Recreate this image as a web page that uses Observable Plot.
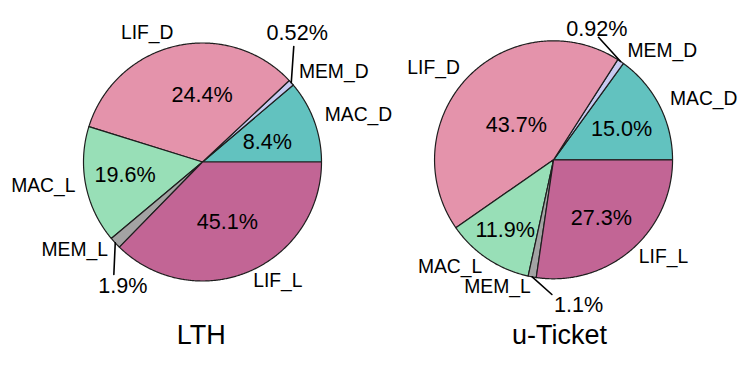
<!DOCTYPE html>
<html>
<head>
<meta charset="utf-8">
<script src="https://cdn.jsdelivr.net/npm/d3@7"></script>
<script src="https://cdn.jsdelivr.net/npm/@observablehq/plot@0.6"></script>
<style>
  html, body { margin: 0; padding: 0; background: #ffffff; }
  #chart svg { display: block; }
</style>
</head>
<body>
<div id="chart"></div>
<script>
// ---------------- DATA ----------------
const categories = ["MAC_D", "MEM_D", "LIF_D", "MAC_L", "MEM_L", "LIF_L"];
const panels = ["LTH", "u-Ticket"];
// slice sizes as drawn in the picture (percent of the circle)
const lthShares = [11.2, 0.8, 33.2, 15.9, 1.6, 37.3];
const uticketShares = [15.0, 0.92, 43.7, 11.9, 1.1, 27.3];
// percentage labels as printed on the picture
const lthPctLabels = ["8.4%", "0.52%", "24.4%", "19.6%", "1.9%", "45.1%"];
const uticketPctLabels = ["15.0%", "0.92%", "43.7%", "11.9%", "1.1%", "27.3%"];
const sliceColors = ["#62c2bf", "#c7caf1", "#e493ab", "#98dfb7", "#a3a3a3", "#c26595"];

// ---------------- LAYOUT (pie-radius units, relative to each pie centre) ----------------
const layout = [
  {
    panel: "LTH", cx: 0, cy: 0, title: [-0.011, -1.458],
    name: {MAC_D: [1.311, 0.397], MEM_D: [1.103, 0.755], LIF_D: [-0.465, 1.088],
           MAC_L: [-1.338, -0.203], MEM_L: [-1.074, -0.738], LIF_L: [0.633, -0.996]},
    pct: {MAC_D: [0.544, 0.166], MEM_D: [0.796, 1.086], LIF_D: [-0.003, 0.559],
          MAC_L: [-0.651, -0.108], MEM_L: [-0.670, -1.046], LIF_L: [0.208, -0.506]},
    leader: {MEM_D: [0.767, 0.971], MEM_L: [-0.745, -0.945]}
  },
  {
    panel: "u-Ticket", cx: 2.95, cy: 0.0185, title: [0.049, -1.478],
    name: {MAC_D: [1.262, 0.513], MEM_D: [0.914, 0.918], LIF_D: [-1.008, 0.770],
           MAC_L: [-0.870, -0.903], MEM_L: [-0.471, -1.065], LIF_L: [0.924, -0.818]},
    pct: {MAC_D: [0.571, 0.261], MEM_D: [0.364, 1.101], LIF_D: [-0.313, 0.294],
          MAC_L: [-0.406, -0.594], MEM_L: [0.210, -1.224], LIF_L: [0.401, -0.487]},
    leader: {MEM_D: [0.378, 1.030], MEM_L: [-0.014, -1.132]}
  }
];

const shares = [lthShares, uticketShares];
const pctLabels = [lthPctLabels, uticketPctLabels];

// ---------------- GEOMETRY ----------------
const slicePolys = [];
const nameLabels = [];
const pctTexts = [];
const leaders = [];
const titles = [];

layout.forEach((L, pi) => {
  const vals = shares[pi];
  const total = d3.sum(vals);
  let cum = 0;
  vals.forEach((v, i) => {
    const a0 = 2 * Math.PI * cum / total;
    const a1 = 2 * Math.PI * (cum + v) / total;
    cum += v;
    const key = L.panel + "-" + categories[i];
    const pts = [[L.cx, L.cy]];
    const n = Math.max(2, Math.ceil((a1 - a0) / (Math.PI / 360)));
    for (let k = 0; k <= n; k++) {
      const a = a0 + (a1 - a0) * k / n;
      pts.push([L.cx + Math.cos(a), L.cy + Math.sin(a)]);
    }
    pts.push([L.cx, L.cy]);
    pts.forEach(([x, y]) => slicePolys.push({key, cat: categories[i], x, y}));
    const cat = categories[i];
    nameLabels.push({text: cat, x: L.cx + L.name[cat][0], y: L.cy + L.name[cat][1]});
    pctTexts.push({text: pctLabels[pi][i], x: L.cx + L.pct[cat][0], y: L.cy + L.pct[cat][1]});
    if (L.leader[cat]) {
      const am = (a0 + a1) / 2;
      leaders.push({key, x: L.cx + Math.cos(am), y: L.cy + Math.sin(am)});
      leaders.push({key, x: L.cx + L.leader[cat][0], y: L.cy + L.leader[cat][1]});
    }
  });
  titles.push({text: L.panel, x: L.cx + L.title[0], y: L.cy + L.title[1]});
});

// ---------------- PLOT ----------------
const W = 747, H = 368, R = 119;
const x0 = -202 / R, y1 = 161.5 / R;
const marks = categories.map((c, i) =>
  Plot.line(slicePolys.filter(d => d.cat === c), {
    x: "x", y: "y", z: "key", fill: sliceColors[i],
    stroke: "#1e1e1e", strokeWidth: 1.2, strokeLinejoin: "round"
  })
);
marks.push(
  Plot.line(leaders, {x: "x", y: "y", z: "key", stroke: "#000", strokeWidth: 1.6}),
  Plot.text(nameLabels, {x: "x", y: "y", text: "text", fontSize: 19.3, fill: "#000", lineAnchor: "middle"}),
  Plot.text(pctTexts, {x: "x", y: "y", text: "text", fontSize: 21.6, fill: "#000", lineAnchor: "middle"}),
  Plot.text(titles, {x: "x", y: "y", text: "text", fontSize: 27, fill: "#000", lineAnchor: "middle"})
);

const chart = Plot.plot({
  width: W, height: H,
  marginTop: 0, marginRight: 0, marginBottom: 0, marginLeft: 0,
  x: {domain: [x0, x0 + W / R], axis: null},
  y: {domain: [y1 - H / R, y1], axis: null},
  style: {fontFamily: "Liberation Sans", background: "#ffffff", overflow: "visible"},
  marks
});
document.getElementById("chart").appendChild(chart);
</script>
</body>
</html>
